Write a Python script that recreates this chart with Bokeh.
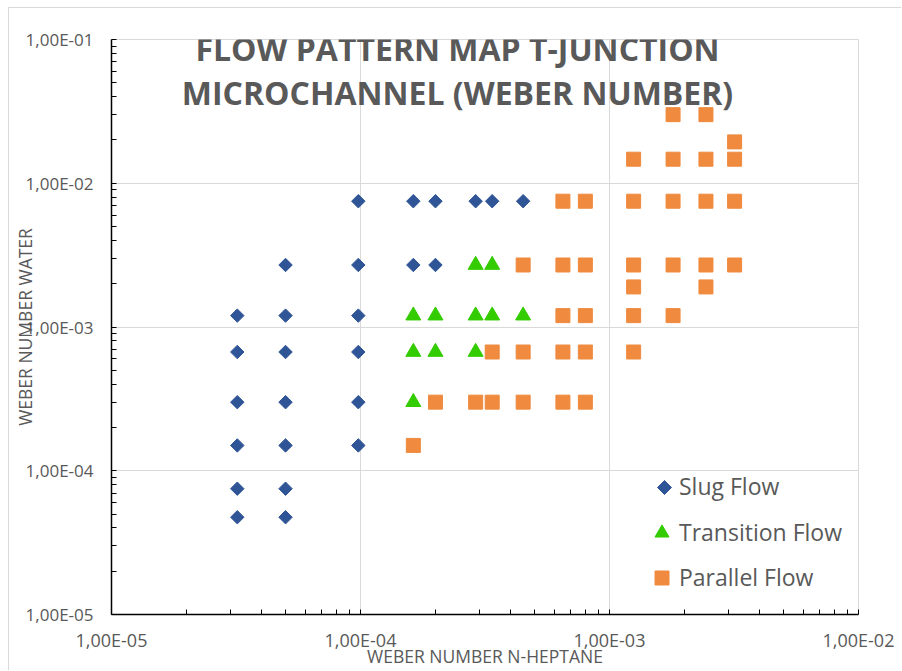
import numpy as np
from bokeh.plotting import figure
from bokeh.models import (ColumnDataSource, Label, Legend, LegendItem, FixedTicker,
                          CustomJSTickFormatter, PolyAnnotation)
from bokeh.embed import file_html
from bokeh.resources import INLINE

# ---------------- data ----------------
slug_x = [3.2e-5] * 6 + [5.0e-5] * 7 + [9.8e-5] * 6 + [1.63e-4] * 2 + [2.0e-4] * 2 + [2.9e-4, 3.38e-4, 4.5e-4]
slug_y = [1.2e-3, 6.7e-4, 3.0e-4, 1.5e-4, 7.5e-5, 4.75e-5,
          2.7e-3, 1.2e-3, 6.7e-4, 3.0e-4, 1.5e-4, 7.5e-5, 4.75e-5,
          7.5e-3, 2.7e-3, 1.2e-3, 6.7e-4, 3.0e-4, 1.5e-4,
          7.5e-3, 2.7e-3,
          7.5e-3, 2.7e-3,
          7.5e-3, 7.5e-3, 7.5e-3]

trans_x = [1.63e-4] * 3 + [2.0e-4] * 2 + [2.9e-4] * 3 + [3.38e-4] * 2 + [4.5e-4]
trans_y = [1.2e-3, 6.7e-4, 3.0e-4,
           1.2e-3, 6.7e-4,
           2.7e-3, 1.2e-3, 6.7e-4,
           2.7e-3, 1.2e-3,
           1.2e-3]

par_x = ([1.63e-4, 2.0e-4, 2.9e-4] + [3.38e-4] * 2 + [4.5e-4] * 3 + [6.5e-4] * 5 + [8.0e-4] * 5
         + [1.25e-3] * 6 + [1.8e-3] * 5 + [2.44e-3] * 5 + [3.18e-3] * 4)
par_y = ([1.5e-4, 3.0e-4, 3.0e-4]
         + [6.7e-4, 3.0e-4]
         + [2.7e-3, 6.7e-4, 3.0e-4]
         + [7.5e-3, 2.7e-3, 1.2e-3, 6.7e-4, 3.0e-4]
         + [7.5e-3, 2.7e-3, 1.2e-3, 6.7e-4, 3.0e-4]
         + [1.47e-2, 7.5e-3, 2.7e-3, 1.9e-3, 1.2e-3, 6.7e-4]
         + [3.0e-2, 1.47e-2, 7.5e-3, 2.7e-3, 1.2e-3]
         + [3.0e-2, 1.47e-2, 7.5e-3, 2.7e-3, 1.9e-3]
         + [1.94e-2, 1.47e-2, 7.5e-3, 2.7e-3])

x_ticks = [1e-5, 1e-4, 1e-3, 1e-2]
x_labels = ["1,00E-05", "1,00E-04", "1,00E-03", "1,00E-02"]
y_ticks = [1e-5, 1e-4, 1e-3, 1e-2, 1e-1]
y_labels = ["1,00E-05", "1,00E-04", "1,00E-03", "1,00E-02", "1,00E-01"]

series_names = ["Slug Flow", "Transition Flow", "Parallel Flow"]
title_lines = ["FLOW PATTERN MAP T-JUNCTION", "MICROCHANNEL (WEBER NUMBER)"]
x_title = "WEBER NUMBER N-HEPTANE"
y_title = "WEBER NUMBER WATER"

# ---------------- style ----------------
FONT = "Open Sans"
GRAY = "#595959"
GRID = "#D9D9D9"
BLUE = "#2F5597"
GREEN = "#33CC00"
ORANGE = "#EF8A3E"

PAGE_W, PAGE_H = 902, 671
OFF_X, OFF_Y = 9, 8                         # canvas offset inside the page (after border)
FR_L, FR_R, FR_T, FR_B = 111, 858, 39, 614  # frame edges in page pixels

W, H = PAGE_W - OFF_X, PAGE_H - OFF_Y

p = figure(width=W, height=H, x_axis_type="log", y_axis_type="log",
           x_range=(1e-5, 1e-2), y_range=(1e-5, 1e-1),
           output_backend="svg", toolbar_location=None,
           min_border_left=FR_L - OFF_X, min_border_right=PAGE_W - FR_R,
           min_border_top=FR_T - OFF_Y, min_border_bottom=PAGE_H - FR_B)
p.styles = {"margin-left": "8px", "margin-top": "7px",
            "border-left": "1px solid #D9D9D9", "border-top": "1px solid #D9D9D9"}
p.outline_line_color = GRID
p.background_fill_color = "white"
p.border_fill_color = "white"


def minor(ticks):
    out = []
    for t in ticks[:-1]:
        out += [k * t for k in range(2, 10)]
    return out


fmt_code = """
let best = 0; let bd = 1e9;
for (let i = 0; i < vals.length; i++) {
  const d = Math.abs(Math.log10(tick) - Math.log10(vals[i]));
  if (d < bd) { bd = d; best = i; }
}
return labs[best];
"""

p.xaxis.ticker = FixedTicker(ticks=x_ticks, minor_ticks=minor(x_ticks))
p.yaxis.ticker = FixedTicker(ticks=y_ticks, minor_ticks=minor(y_ticks))
p.xaxis.formatter = CustomJSTickFormatter(args=dict(vals=x_ticks, labs=x_labels), code=fmt_code)
p.yaxis.formatter = CustomJSTickFormatter(args=dict(vals=y_ticks, labs=y_labels), code=fmt_code)

for ax in (p.xaxis, p.yaxis):
    ax.axis_line_color = "black"
    ax.axis_line_width = 1.5
    ax.major_tick_line_color = "black"
    ax.minor_tick_line_color = "black"
    ax.major_tick_in = 5
    ax.major_tick_out = 0
    ax.minor_tick_in = 5
    ax.minor_tick_out = 0
    ax.major_label_text_font = FONT
    ax.major_label_text_color = GRAY
    ax.axis_label_text_font = FONT
    ax.axis_label_text_font_style = "normal"
    ax.axis_label_text_color = GRAY
    ax.axis_label_text_font_size = "17.5px"
p.xaxis.major_label_text_font_size = "18px"
p.yaxis.major_label_text_font_size = "17px"
p.xaxis.major_label_standoff = 13
p.yaxis.major_label_standoff = 18
p.xaxis.axis_label = x_title
p.yaxis.axis_label = y_title
p.xaxis.axis_label_standoff = -11
p.yaxis.axis_label_standoff = -14

p.xgrid.grid_line_color = GRID
p.ygrid.grid_line_color = GRID
p.xgrid.minor_grid_line_color = None
p.ygrid.minor_grid_line_color = None

src_s = ColumnDataSource(dict(x=slug_x, y=slug_y))
src_t = ColumnDataSource(dict(x=trans_x, y=trans_y))
src_p = ColumnDataSource(dict(x=par_x, y=par_y))

r_s = p.scatter("x", "y", source=src_s, marker="square", angle=np.pi / 4, size=9.5,
                fill_color=BLUE, line_color=BLUE)
r_t = p.scatter("x", "y", source=src_t, marker="triangle", size=15,
                fill_color=GREEN, line_color=GREEN)
r_p = p.scatter("x", "y", source=src_p, marker="square", size=14,
                fill_color=ORANGE, line_color=ORANGE)

# legend key for the slug series: the Legend does not rotate markers, so its
# key glyph is hidden and a diamond key is drawn next to the label instead
r_s_key = p.scatter(x=[], y=[], marker="square", fill_alpha=0, line_alpha=0)

# legend rows: marker centre x (page px), row centre y (page px)
LEG_CX = 664
LEG_ROWS = [487, 532, 577]
LEG_GLYPH = [25, 35, 35]
LEG_TEXT_X = 679
LEG_RENDS = [r_s_key, r_t, r_p]


def add_legend(name, rend, cy, g):
    item_h = max(g, 30)
    standoff = max(0, int(round(LEG_TEXT_X - LEG_CX - g / 2)))
    x = (LEG_TEXT_X - FR_L) - g - standoff
    y = (FR_B - cy) - item_h / 2
    lg = Legend(items=[LegendItem(label=name, renderers=[rend])],
                location=(x, y), orientation="vertical",
                label_text_font=FONT, label_text_font_size="23px", label_text_color=GRAY,
                glyph_width=g, glyph_height=g, label_height=30, spacing=0,
                label_standoff=standoff, padding=0, margin=0,
                border_line_alpha=0, background_fill_alpha=0)
    p.add_layout(lg)


for nm, rr, cy, g in zip(series_names, LEG_RENDS, LEG_ROWS, LEG_GLYPH):
    add_legend(nm, rr, cy, g)

dcx, dcy, dr = LEG_CX - FR_L, FR_B - LEG_ROWS[0], 7
p.add_layout(PolyAnnotation(xs=[dcx, dcx + dr, dcx, dcx - dr], ys=[dcy + dr, dcy, dcy - dr, dcy],
                            xs_units="screen", ys_units="screen",
                            fill_color=BLUE, fill_alpha=1, line_color=BLUE, line_alpha=1))


def frame_label(text, cx, cy, **kw):
    # page coords (top-left origin) -> frame screen units (bottom-left origin)
    return Label(x=cx - FR_L, y=FR_B - cy, x_units="screen", y_units="screen", text=text,
                 text_font=FONT, **kw)


p.add_layout(frame_label(title_lines[0], 457, 48, text_font_size="32px", text_font_style="bold",
                         text_color=GRAY, text_align="center", text_baseline="middle",
                         level="overlay"))
p.add_layout(frame_label(title_lines[1], 457, 91.5, text_font_size="32px", text_font_style="bold",
                         text_color=GRAY, text_align="center", text_baseline="middle",
                         level="overlay"))

open("out.html", "w").write(file_html(p, INLINE))
